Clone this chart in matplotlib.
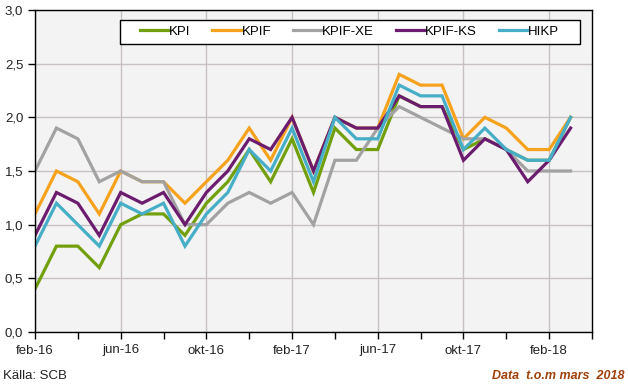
import numpy as np
import matplotlib.pyplot as plt
from matplotlib.patches import Rectangle
from matplotlib.ticker import FixedLocator, FuncFormatter

plt.rcParams.update({
    "font.family": ["Liberation Sans", "DejaVu Sans"],
    "font.size": 9.5,
})

months = ['feb-16', 'mar-16', 'apr-16', 'maj-16', 'jun-16', 'jul-16', 'aug-16', 'sep-16',
          'okt-16', 'nov-16', 'dec-16', 'jan-17', 'feb-17', 'mar-17', 'apr-17', 'maj-17',
          'jun-17', 'jul-17', 'aug-17', 'sep-17', 'okt-17', 'nov-17', 'dec-17', 'jan-18',
          'feb-18', 'mar-18']
tick_labels = ['feb-16', 'jun-16', 'okt-16', 'feb-17', 'jun-17', 'okt-17', 'feb-18']

kpi = [0.4, 0.8, 0.8, 0.6, 1.0, 1.1, 1.1, 0.9, 1.2, 1.4, 1.7, 1.4, 1.8, 1.3, 1.9, 1.7,
       1.7, 2.2, 2.1, 2.1, 1.7, 1.8, 1.7, 1.6, 1.6, 2.0]
kpif = [1.1, 1.5, 1.4, 1.1, 1.5, 1.4, 1.4, 1.2, 1.4, 1.6, 1.9, 1.6, 2.0, 1.5, 2.0, 1.9,
        1.9, 2.4, 2.3, 2.3, 1.8, 2.0, 1.9, 1.7, 1.7, 2.0]
kpif_xe = [1.5, 1.9, 1.8, 1.4, 1.5, 1.4, 1.4, 1.0, 1.0, 1.2, 1.3, 1.2, 1.3, 1.0, 1.6, 1.6,
           1.9, 2.1, 2.0, 1.9, 1.8, 1.8, 1.7, 1.5, 1.5, 1.5]
kpif_ks = [0.9, 1.3, 1.2, 0.9, 1.3, 1.2, 1.3, 1.0, 1.3, 1.5, 1.8, 1.7, 2.0, 1.5, 2.0, 1.9,
           1.9, 2.2, 2.1, 2.1, 1.6, 1.8, 1.7, 1.4, 1.6, 1.9]
hikp = [0.8, 1.2, 1.0, 0.8, 1.2, 1.1, 1.2, 0.8, 1.1, 1.3, 1.7, 1.5, 1.9, 1.4, 2.0, 1.8,
        1.8, 2.3, 2.2, 2.2, 1.7, 1.9, 1.7, 1.6, 1.6, 2.0]

series = [
    ('KPI', kpi, '#72A00C'),
    ('KPIF', kpif, '#F6A21C'),
    ('KPIF-XE', kpif_xe, '#A2A2A2'),
    ('KPIF-KS', kpif_ks, '#6B1C6E'),
    ('HIKP', hikp, '#46AEC6'),
]

W, H = 628, 387
fig = plt.figure(figsize=(W / 100, H / 100), dpi=100)
ax = fig.add_axes([35 / W, 1 - 332 / H, 557 / W, 322 / H])
ax.set_facecolor('#F3F3F3')

x = np.arange(len(months))
for name, vals, col in series:
    ax.plot(x, vals, color=col, lw=2.3, label=name, solid_joinstyle='miter')

ax.set_xlim(0, len(months))
ax.set_ylim(0, 3.0)
ax.xaxis.set_major_locator(FixedLocator(np.arange(0, len(months), 4)))
ax.xaxis.set_minor_locator(FixedLocator(np.arange(2, len(months) + 1, 4)))
ax.set_xticklabels(tick_labels)
ax.set_yticks(np.arange(0, 3.01, 0.5))
ax.yaxis.set_major_formatter(FuncFormatter(lambda v, p: f'{v:.1f}'.replace('.', ',')))
ax.tick_params(axis='both', which='both', direction='out', length=5, width=1, color='black',
               labelsize=9.5, labelcolor='#222222')
ax.tick_params(axis='x', which='major', pad=4)

ax.grid(True, which='major', color='#C8C0C4', lw=1)
ax.set_axisbelow(True)
for s in ax.spines.values():
    s.set_color('black')
    s.set_linewidth(1)

# legend box drawn by hand so the side padding matches
ax.add_patch(Rectangle((120 / W, 1 - 44 / H), 460 / W, 24 / H, transform=fig.transFigure,
                       facecolor='white', edgecolor='black', lw=1, zorder=5, clip_on=False))
leg = ax.legend(loc='center', bbox_to_anchor=(349.5 / W, 1 - 32 / H), bbox_transform=fig.transFigure,
                ncol=5, frameon=False, handlelength=2.2, handletextpad=0.0, columnspacing=1.67,
                fontsize=9.5, borderpad=0)
leg.set_zorder(6)

fig.text(3 / W, 1 - 376 / H, 'Källa: SCB', fontsize=9.5, color='#222222', va='center')
fig.text(624 / W, 1 - 376 / H, 'Data  t.o.m mars  2018', fontsize=9, color='#A0400A',
         style='italic', weight='bold', ha='right', va='center')

fig.savefig('out.png', dpi=100)
